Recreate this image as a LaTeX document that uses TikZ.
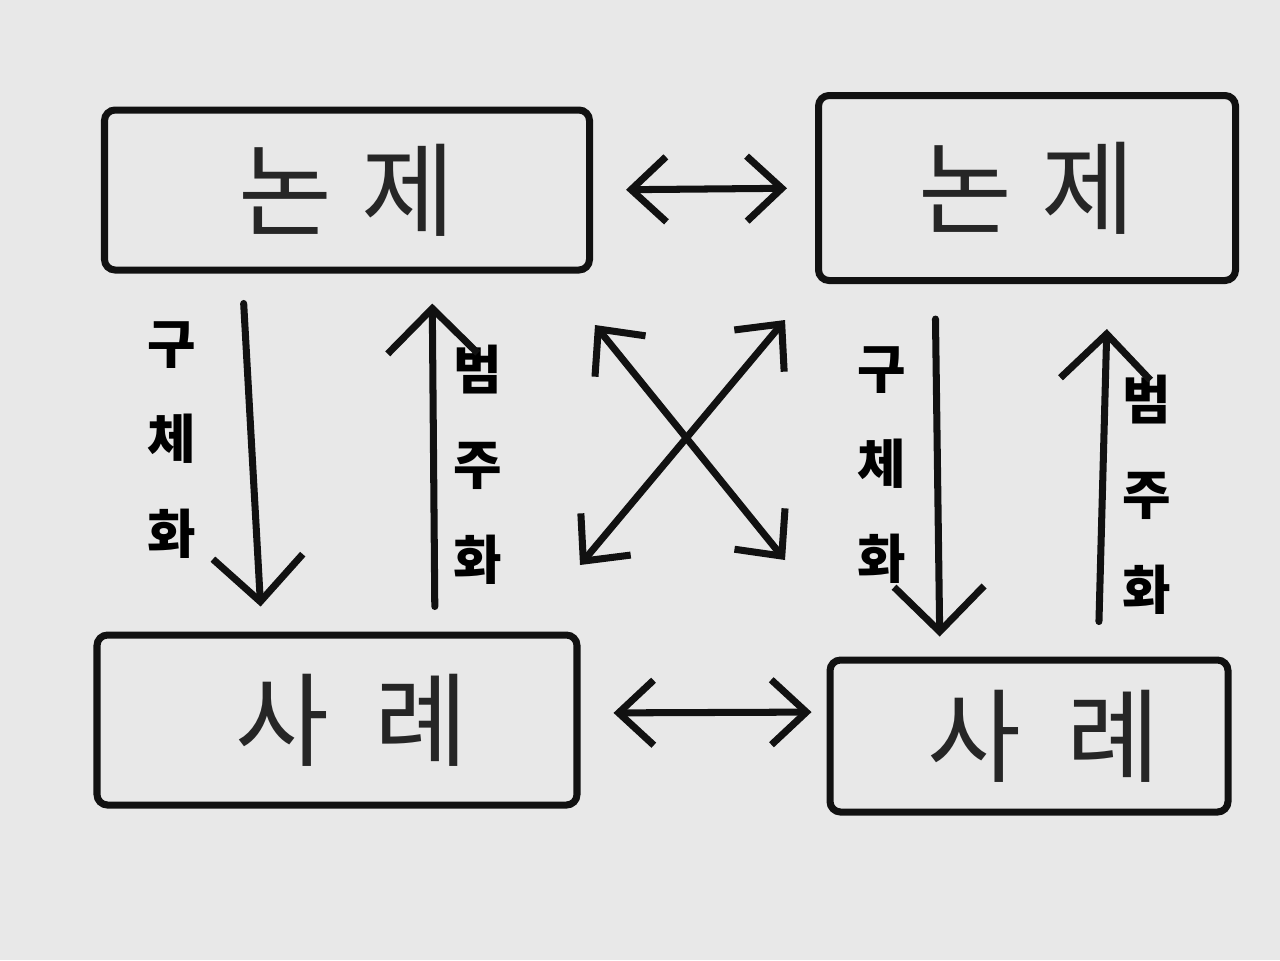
\documentclass[tikz,border=0pt]{standalone}
\usepackage{fontspec}
\newfontfamily\kr{Noto Sans CJK KR}
\usetikzlibrary{arrows.meta,positioning}
\definecolor{paper}{HTML}{E8E8E8}
\definecolor{ink}{HTML}{111111}

\begin{document}
\begin{tikzpicture}[
    box/.style={draw=ink, line width=2pt, rounded corners=3pt, font=\kr\fontsize{29}{30}\selectfont, text=black!85},
    lbl/.style={align=center, font=\kr\bfseries\fontsize{15}{27}\selectfont},
    arr/.style={-{Straight Barb[length=4.5mm,width=9mm]}, line width=2pt, line cap=round, line join=round, draw=ink},
    dbl/.style={{Straight Barb[length=3.5mm,width=6.5mm]}-{Straight Barb[length=3.5mm,width=6.5mm]}, line width=2pt, line cap=round, line join=round, draw=ink}
]
\fill[paper] (0,0) rectangle (12.8,-9.6);

% boxes
\node[box, minimum width=4.85cm, minimum height=1.6cm] (tl) at (3.47,-1.90) {논\hspace{3mm}제};
\node[box, minimum width=4.17cm, minimum height=1.85cm] (tr) at (10.27,-1.88) {논\hspace{3mm}제};
\node[box, minimum width=4.8cm, minimum height=1.7cm] (bl) at (3.37,-7.20) {\hspace{3mm}사\hspace{4.5mm}례};
\node[box, minimum width=3.98cm, minimum height=1.52cm] (br) at (10.29,-7.36) {\hspace{3mm}사\hspace{4.5mm}례};

% labels
\node[lbl] (c1) at (1.72,-4.40) {구\\체\\화};
\node[lbl] (g1) at (4.78,-4.65) {범\\주\\화};
\node[lbl] (c2) at (8.82,-4.65) {구\\체\\화};
\node[lbl] (g2) at (11.47,-4.95) {범\\주\\화};

% vertical arrows
\draw[arr, shorten <=0.3cm, shorten >=0.25cm] ([xshift=-1.05cm]tl.south) -- ([xshift=-0.75cm]bl.north);
\draw[arr, shorten <=0.25cm, shorten >=0.3cm] ([xshift=0.98cm]bl.north) -- ([xshift=0.85cm]tl.south);
\draw[arr, shorten <=0.35cm, shorten >=0.2cm] ([xshift=-0.92cm]tr.south) -- ([xshift=-0.89cm]br.north);
\draw[arr, shorten <=0.35cm, shorten >=0.45cm] ([xshift=0.69cm]br.north) -- ([xshift=0.81cm]tr.south);

% horizontal arrows
\draw[dbl, shorten <=0.33cm, shorten >=0.28cm] (tl.east) -- (tr.west);
\draw[dbl, shorten <=0.33cm, shorten >=0.15cm] ([yshift=0.07cm]bl.east) -- ([yshift=0.24cm]br.west);

% cross
\coordinate (xa) at (5.95,-3.25);
\coordinate (xb) at (7.85,-5.60);
\coordinate (xc) at (5.80,-5.65);
\coordinate (xd) at (7.85,-3.20);
\draw[dbl] (xa) -- (xb);
\draw[dbl] (xc) -- (xd);
\end{tikzpicture}
\end{document}
